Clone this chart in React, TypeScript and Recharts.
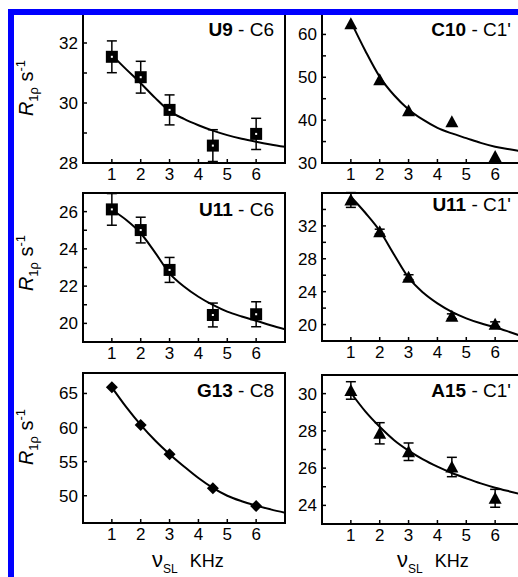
import React from 'react';
import { ComposedChart, Line, Scatter, XAxis, YAxis, ErrorBar, ReferenceArea } from 'recharts';

// shared x values
const xTicks = [1, 2, 3, 4, 5, 6];
const pointX = [1, 2, 3, 4.5, 6];
const fitX = [1, 1.5, 2, 2.5, 3, 3.5, 4, 4.5, 5, 5.5, 6, 6.5, 7];

// U9 - C6
const u9Pts = [31.54, 30.86, 29.77, 28.58, 28.97];
const u9Err = [0.53, 0.53, 0.5, 0.53, 0.52];
const u9Fit = [31.6, 31.12, 30.66, 30.17, 29.73, 29.47, 29.26, 29.08, 28.93, 28.81, 28.71, 28.62, 28.54];
const u9Ticks = [28, 29, 30, 31, 32];
const u9Labels = [28, 30, 32];

// C10 - C1'
const c10Pts = [62.5, 49.4, 42.2, 39.6, 31.5];
const c10Fit = [63, 56.2, 50.1, 45.8, 42.5, 40.1, 38.2, 36.9, 35.8, 34.7, 33.8, 33.2, 32.6];
const c10Ticks = [30, 35, 40, 45, 50, 55, 60];
const c10Labels = [30, 40, 50, 60];

// U11 - C6
const u11aPts = [26.12, 25.01, 22.87, 20.45, 20.49];
const u11aErr = [0.85, 0.69, 0.67, 0.64, 0.67];
const u11aFit = [26.1, 25.55, 24.84, 23.8, 22.69, 21.98, 21.43, 20.99, 20.63, 20.37, 20.14, 19.9, 19.68];
const u11aTicks = [20, 21, 22, 23, 24, 25, 26];
const u11aLabels = [20, 22, 24, 26];

// U11 - C1'
const u11bPts = [35.15, 31.3, 25.76, 21.0, 20.03];
const u11bErr = [0.9, 0.3, 0.3, 0.3, 0.3];
const u11bFit = [35.55, 33.6, 31.41, 28.5, 25.7, 23.9, 22.58, 21.55, 20.76, 20.15, 19.67, 19.1, 18.5];
const u11bTicks = [20, 22, 24, 26, 28, 30, 32, 34];
const u11bLabels = [20, 24, 28, 32];

// G13 - C8
const g13Pts = [65.9, 60.37, 56.08, 51.09, 48.49];
const g13Fit = [65.9, 63.0, 60.4, 58.1, 56.1, 54.3, 52.6, 51.15, 50.0, 49.2, 48.55, 48.0, 47.5];
const g13Ticks = [50, 55, 60, 65];
const g13Labels = [50, 55, 60, 65];

// A15 - C1'
const a15Pts = [30.17, 27.87, 26.88, 26.06, 24.38];
const a15Err = [0.47, 0.57, 0.47, 0.52, 0.48];
const a15Fit = [30.05, 29.05, 28.22, 27.5, 26.94, 26.47, 26.08, 25.74, 25.45, 25.18, 24.95, 24.75, 24.56];
const a15Ticks = [24, 25, 26, 27, 28, 29, 30];
const a15Labels = [24, 26, 28, 30];

const FONT = '"Liberation Sans", Arial, sans-serif';
const YW = 45;
const MT = 4;
const MR = 4;
const XH = 30;
const PW = 202;

const Square = (p: any) => (
  <g>
    <rect x={p.cx - 6} y={p.cy - 6} width={12} height={12} fill="#000" />
    <rect x={p.cx - 1} y={p.cy - 1} width={2} height={2} fill="#fff" />
  </g>
);
const Triangle = (p: any) => (
  <polygon points={`${p.cx},${p.cy - 6.5} ${p.cx - 6.5},${p.cy + 5.5} ${p.cx + 6.5},${p.cy + 5.5}`} fill="#000" />
);
const Diamond = (p: any) => (
  <polygon points={`${p.cx},${p.cy - 6} ${p.cx + 6},${p.cy} ${p.cx},${p.cy + 6} ${p.cx - 6},${p.cy}`} fill="#000" />
);

type PanelProps = {
  left: number;
  top: number;
  h: number;
  domain: [number, number];
  ticks: number[];
  labels: number[];
  pts: number[];
  err?: number[];
  fit: number[];
  shape: any;
  bold: string;
  rest: string;
  titleBase: number;
  titlePad: number;
};

const Panel = (p: PanelProps) => {
  const ptData = pointX.map((x, i) => ({ x, y: p.pts[i], e: p.err ? p.err[i] : 0 }));
  const fitData = fitX.map((x, i) => ({ x, y: p.fit[i] }));
  return (
    <>
      <div style={{ position: 'absolute', left: p.left - YW, top: p.top - MT }}>
        <ComposedChart width={YW + PW + MR} height={MT + p.h + XH} margin={{ top: MT, right: MR, left: 0, bottom: 0 }}>
          <XAxis
            type="number"
            dataKey="x"
            domain={[0, 7]}
            ticks={xTicks}
            interval={0}
            allowDataOverflow
            height={XH}
            tickSize={-4}
            tickMargin={9}
            axisLine={{ stroke: '#000', strokeWidth: 2 }}
            tickLine={{ stroke: '#000', strokeWidth: 1.5 }}
            tick={{ fill: '#000', fontSize: 17, fontFamily: FONT }}
          />
          <YAxis
            type="number"
            dataKey="y"
            domain={p.domain}
            ticks={p.ticks}
            interval={0}
            allowDataOverflow
            width={YW}
            tickSize={-4}
            tickMargin={9}
            tickFormatter={(v: number) => (p.labels.includes(v) ? String(v) : '')}
            axisLine={{ stroke: '#000', strokeWidth: 2 }}
            tickLine={{ stroke: '#000', strokeWidth: 1.5 }}
            tick={{ fill: '#000', fontSize: 17, fontFamily: FONT }}
          />
          <ReferenceArea x1={0} x2={7} y1={p.domain[0]} y2={p.domain[1]} fill="none" fillOpacity={0} stroke="#000" strokeWidth={2} />
          <Line data={fitData} dataKey="y" type="monotone" stroke="#000" strokeWidth={2} dot={false} isAnimationActive={false} />
          <Scatter data={ptData} dataKey="y" shape={p.shape} isAnimationActive={false}>
            {p.err && <ErrorBar dataKey="e" direction="y" width={5} stroke="#000" strokeWidth={1.5} />}
          </Scatter>
        </ComposedChart>
      </div>
      <div
        style={{
          position: 'absolute',
          left: p.left,
          width: PW - p.titlePad,
          top: p.titleBase - 16,
          lineHeight: '19px',
          fontSize: 19,
          textAlign: 'right',
          whiteSpace: 'nowrap',
        }}
      >
        <b>{p.bold}</b>
        {' - ' + p.rest}
      </div>
    </>
  );
};

const YLabel = ({ cy }: { cy: number }) => (
  <div
    style={{
      position: 'absolute',
      left: 26 - 50,
      top: cy - 13,
      width: 100,
      height: 26,
      lineHeight: '26px',
      textAlign: 'center',
      transform: 'rotate(-90deg)',
      fontSize: 20,
      whiteSpace: 'nowrap',
    }}
  >
    <i>R</i>
    <span style={{ fontSize: 13, position: 'relative', top: 5 }}>1ρ</span>
    {' s'}
    <span style={{ fontSize: 13, position: 'relative', top: -8 }}>-1</span>
  </div>
);

const XLabel = ({ left }: { left: number }) => (
  <div style={{ position: 'absolute', left, top: 548, lineHeight: '24px', fontSize: 18, whiteSpace: 'nowrap' }}>
    <span style={{ fontSize: 22 }}>ν</span>
    <span style={{ fontSize: 12, position: 'relative', top: 6 }}>SL</span>
    <span style={{ marginLeft: 12 }}>KHz</span>
  </div>
);

export default function App() {
  const L1 = 83;
  const L2 = 322;
  return (
    <div
      style={{
        position: 'absolute',
        left: 0,
        top: 0,
        width: 518,
        height: 577,
        overflow: 'hidden',
        background: '#fff',
        fontFamily: FONT,
        color: '#000',
      }}
    >
      <Panel left={L1} top={13} h={150} domain={[28, 33]} ticks={u9Ticks} labels={u9Labels} pts={u9Pts} err={u9Err} fit={u9Fit} shape={Square} bold="U9" rest="C6" titleBase={36} titlePad={11} />
      <Panel left={L2} top={13} h={150} domain={[30, 65]} ticks={c10Ticks} labels={c10Labels} pts={c10Pts} fit={c10Fit} shape={Triangle} bold="C10" rest="C1'" titleBase={36} titlePad={13} />
      <Panel left={L1} top={193} h={149} domain={[19, 27]} ticks={u11aTicks} labels={u11aLabels} pts={u11aPts} err={u11aErr} fit={u11aFit} shape={Square} bold="U11" rest="C6" titleBase={216} titlePad={11} />
      <Panel left={L2} top={193} h={148} domain={[18, 36]} ticks={u11bTicks} labels={u11bLabels} pts={u11bPts} err={u11bErr} fit={u11bFit} shape={Triangle} bold="U11" rest="C1'" titleBase={211} titlePad={13} />
      <Panel left={L1} top={373} h={150} domain={[46, 68]} ticks={g13Ticks} labels={g13Labels} pts={g13Pts} fit={g13Fit} shape={Diamond} bold="G13" rest="C8" titleBase={397} titlePad={11} />
      <Panel left={L2} top={375} h={149} domain={[23, 31]} ticks={a15Ticks} labels={a15Labels} pts={a15Pts} err={a15Err} fit={a15Fit} shape={Triangle} bold="A15" rest="C1'" titleBase={397} titlePad={13} />
      <YLabel cy={88} />
      <YLabel cy={263} />
      <YLabel cy={437} />
      <XLabel left={152} />
      <XLabel left={397} />
      <div
        style={{
          position: 'absolute',
          left: 8,
          top: 9,
          width: 530,
          height: 590,
          borderTop: '6px solid #0000ff',
          borderLeft: '6px solid #0000ff',
        }}
      />
    </div>
  );
}
